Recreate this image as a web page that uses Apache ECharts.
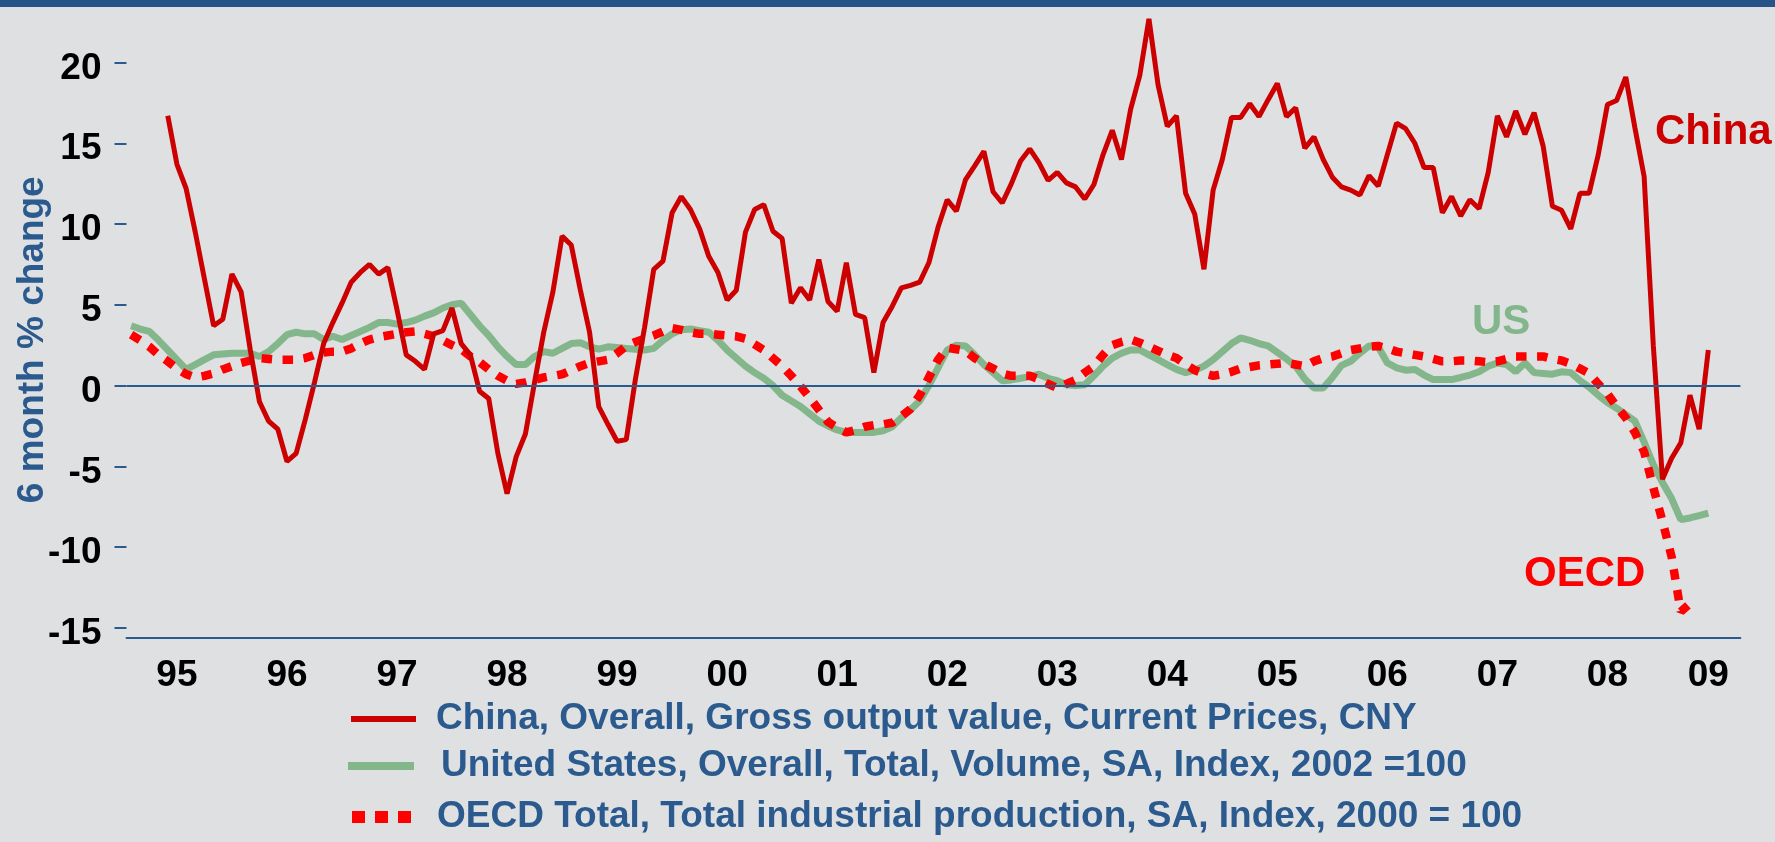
<!DOCTYPE html>
<html>
<head>
<meta charset="utf-8">
<title>6 month % change</title>
<script src="https://cdn.jsdelivr.net/npm/echarts@6/dist/echarts.min.js"></script>
<style>
  html, body { margin: 0; padding: 0; background: #dfe0e2; }
  #chart { width: 1775px; height: 842px; }
</style>
</head>
<body>
<div id="chart"></div>
<script>
// monthly categories, Jan 1995 .. Aug 2009
const years = ['1995', '1996', '1997', '1998', '1999', '2000', '2001', '2002',
  '2003', '2004', '2005', '2006', '2007', '2008', '2009'];
const months = ['01', '02', '03', '04', '05', '06', '07', '08', '09', '10', '11', '12'];
const yearLabels = ['95', '96', '97', '98', '99', '00', '01', '02', '03', '04',
  '05', '06', '07', '08', '09'];
const yTicks = [-15, -10, -5, 0, 5, 10, 15, 20];

const chinaName = 'China, Overall, Gross output value, Current Prices, CNY';
const usName = 'United States, Overall, Total, Volume, SA, Index, 2002 =100';
const oecdName = 'OECD Total, Total industrial production, SA, Index, 2000 = 100';

// 6 month % change, one value per month
const china = [
  null, null, null, null, 16.7, 13.7, 12.2, 9.5, 6.6, 3.7, 4.1, 6.9,
  5.8, 2.2, -1.0, -2.2, -2.7, -4.7, -4.2, -2.1, 0.2, 2.6, 3.9, 5.1,
  6.4, 7.0, 7.5, 6.9, 7.3, 4.7, 1.9, 1.5, 1.0, 3.2, 3.4, 4.8,
  2.6, 1.9, -0.35, -0.8, -4.2, -6.7, -4.4, -3.0, 0.2, 3.3, 5.8, 9.25,
  8.7, 5.9, 3.3, -1.3, -2.4, -3.45, -3.35, 0.4, 3.6, 7.2, 7.7, 10.7,
  11.7, 10.9, 9.7, 8.0, 7.0, 5.3, 5.9, 9.5, 10.9, 11.2, 9.55, 9.1,
  5.1, 6.05, 5.3, 7.8, 5.2, 4.6, 7.6, 4.4, 4.2, 0.8, 3.9, 4.9,
  6.05, 6.2, 6.4, 7.6, 9.8, 11.5, 10.8, 12.75, 13.6, 14.5, 12.0, 11.3,
  12.5, 13.9, 14.65, 13.8, 12.7, 13.2, 12.55, 12.3, 11.55, 12.45, 14.3, 15.8,
  14.0, 17.1, 19.2, 22.7, 18.6, 16.05, 16.7, 11.9, 10.6, 7.2, 12.1, 14.0,
  16.6, 16.6, 17.45, 16.65, 17.7, 18.7, 16.65, 17.2, 14.7, 15.4, 14.0, 12.9,
  12.3, 12.1, 11.8, 13.0, 12.35, 14.3, 16.25, 15.9, 15.0, 13.5, 13.5, 10.7,
  11.7, 10.5, 11.5, 10.95, 13.2, 16.7, 15.4, 17.0, 15.55, 16.9, 14.8, 11.1,
  10.85, 9.7, 11.9, 11.9, 14.3, 17.4, 17.65, 19.1, 15.95, 12.95, 2.5, -5.8,
  -4.5, -3.55, -0.6, -2.7, 2.2, null, null, null
];

const us = [
  3.7, 3.5, 3.35, 2.8, 2.2, 1.6, 1.0, 1.3, 1.6, 1.9, 1.95, 2.0,
  2.0, 2.0, 1.8, 2.1, 2.6, 3.15, 3.3, 3.2, 3.2, 2.85, 3.05, 2.85,
  3.1, 3.35, 3.6, 3.9, 3.9, 3.8, 3.9, 4.05, 4.3, 4.5, 4.8, 5.0,
  5.1, 4.4, 3.7, 3.1, 2.4, 1.8, 1.3, 1.3, 1.8, 2.1, 2.0, 2.3,
  2.6, 2.65, 2.4, 2.25, 2.4, 2.35, 2.3, 2.25, 2.2, 2.3, 2.8, 3.2,
  3.45, 3.5, 3.4, 3.3, 2.8, 2.2, 1.7, 1.2, 0.8, 0.45, 0.0, -0.6,
  -0.95, -1.3, -1.75, -2.2, -2.5, -2.75, -2.9, -2.9, -2.9, -2.9, -2.8, -2.55,
  -2.0, -1.5, -0.95, 0.0, 1.1, 2.2, 2.5, 2.45, 1.9, 1.3, 0.8, 0.3,
  0.35, 0.45, 0.55, 0.7, 0.45, 0.3, 0.05, 0.0, 0.05, 0.6, 1.2, 1.7,
  2.0, 2.2, 2.2, 1.9, 1.6, 1.3, 1.0, 0.8, 0.95, 1.2, 1.6, 2.1,
  2.6, 2.95, 2.8, 2.6, 2.45, 2.05, 1.65, 1.2, 0.4, -0.15, -0.15, 0.5,
  1.25, 1.5, 2.0, 2.45, 2.4, 1.4, 1.1, 0.95, 1.0, 0.65, 0.37, 0.37,
  0.37, 0.5, 0.65, 0.85, 1.2, 1.4, 1.3, 0.85, 1.4, 0.8, 0.75, 0.7,
  0.85, 0.8, 0.3, -0.1, -0.6, -1.05, -1.4, -1.8, -2.2, -3.5, -4.9, -6.0,
  -7.0, -8.3, -8.2, -8.05, -7.9, null, null, null
];

const oecd = [
  3.15, 2.8, 2.4, 1.9, 1.5, 1.05, 0.7, 0.5, 0.6, 0.75, 1.0, 1.2,
  1.4, 1.55, 1.7, 1.65, 1.6, 1.6, 1.6, 1.7, 1.9, 2.05, 2.1, 2.1,
  2.3, 2.6, 2.85, 3.0, 3.1, 3.2, 3.3, 3.35, 3.2, 3.05, 2.8, 2.5,
  2.25, 1.8, 1.45, 1.0, 0.6, 0.3, 0.1, 0.2, 0.35, 0.5, 0.6, 0.7,
  0.95, 1.2, 1.4, 1.5, 1.6, 2.0, 2.45, 2.7, 2.9, 3.1, 3.35, 3.55,
  3.45, 3.3, 3.2, 3.2, 3.15, 3.1, 3.05, 2.9, 2.55, 2.2, 1.7, 1.2,
  0.6, -0.05, -0.75, -1.5, -2.25, -2.6, -2.9, -2.75, -2.55, -2.45, -2.4, -2.3,
  -1.9, -1.45, -0.6, 0.5, 1.6, 2.35, 2.25, 2.15, 1.7, 1.35, 1.05, 0.75,
  0.6, 0.6, 0.6, 0.4, 0.1, -0.15, 0.1, 0.35, 0.8, 1.2, 1.9, 2.5,
  2.7, 2.85, 2.65, 2.4, 2.15, 1.9, 1.7, 1.3, 0.95, 0.75, 0.6, 0.7,
  0.85, 1.05, 1.15, 1.25, 1.3, 1.35, 1.4, 1.3, 1.2, 1.5, 1.7, 1.8,
  2.0, 2.2, 2.3, 2.4, 2.45, 2.3, 2.1, 2.0, 1.9, 1.8, 1.65, 1.5,
  1.5, 1.55, 1.55, 1.5, 1.45, 1.5, 1.65, 1.8, 1.8, 1.8, 1.8, 1.65,
  1.55, 1.35, 1.05, 0.75, 0.1, -0.5, -1.3, -2.0, -2.9, -4.1, -6.3, -8.4,
  -10.6, -14.0, -13.5, null, null, null, null, null
];

const categories = [];
years.forEach((y) => months.forEach((m) => categories.push(y + '-' + m)));
categories.length = china.length;

const FONT = "'Liberation Sans', Arial, sans-serif";
const BLUE = '#2b5a8e';
const CHINA_RED = '#cc0000';
const US_GREEN = '#84b68b';
const OECD_RED = '#ff0000';

function legendBox(name, left, centerY, w, h, gap, iconColor) {
  return {
    data: [name],
    icon: 'rect',
    left: left,
    top: centerY - 20,
    padding: 0,
    itemWidth: w,
    itemHeight: h,
    selectedMode: false,
    itemStyle: iconColor ? { borderWidth: 0, color: iconColor } : { borderWidth: 0 },
    textStyle: {
      color: BLUE,
      fontSize: 37,
      fontWeight: 'bold',
      fontFamily: FONT,
      lineHeight: 40,
      padding: [0, 0, 0, gap]
    }
  };
}

// dotted key for the OECD row: three red squares
function dottedKey(left, centerY) {
  return {
    type: 'group',
    left: left,
    top: centerY - 6,
    children: [0, 23, 46].map((dx) => ({
      type: 'rect',
      shape: { x: dx, y: 0, width: 13, height: 12 },
      style: { fill: OECD_RED }
    }))
  };
}

const chart = echarts.init(document.getElementById('chart'));

const option = {
  backgroundColor: '#dfe0e2',
  animation: false,
  grid: {
    left: 126.5,
    right: 34.6,
    top: 6,
    bottom: 204.5,
    containLabel: false,
    outerBoundsMode: 'none'
  },
  legend: [
    legendBox(chinaName, 351, 719, 65, 6, 15),
    legendBox(usName, 348, 766, 66, 8, 22),
    legendBox(oecdName, 352, 817, 59, 12, 21, 'rgba(0,0,0,0)')
  ],
  xAxis: {
    type: 'category',
    data: categories,
    boundaryGap: true,
    axisLine: { onZero: false, lineStyle: { color: BLUE, width: 2 } },
    axisTick: {
      length: 10,
      interval: (index) => index > 0 && index % 12 === 0,
      lineStyle: { color: BLUE, width: 2 }
    },
    axisLabel: {
      // label sits mid-year; the last, partial year is centred on its visible months
      interval: (index) => (index < 168 && index % 12 === 5) || index === 172,
      formatter: (value, index) => yearLabels[Math.floor(index / 12)],
      margin: 20,
      color: '#000',
      fontSize: 37,
      fontWeight: 'bold',
      fontFamily: FONT
    },
    splitLine: { show: false }
  },
  yAxis: {
    type: 'value',
    min: -15.6,
    max: 23.5,
    name: '6 month % change',
    nameLocation: 'middle',
    nameRotate: 90,
    nameGap: 75,
    nameMoveOverlap: false,
    nameTextStyle: {
      color: BLUE,
      fontSize: 37,
      fontWeight: 'bold',
      fontFamily: FONT,
      padding: [0, 36, 0, 0]
    },
    axisLine: { show: false },
    splitLine: { show: false },
    axisTick: {
      show: true,
      length: 12,
      customValues: yTicks,
      lineStyle: { color: BLUE, width: 2 }
    },
    axisLabel: {
      customValues: yTicks,
      margin: 25,
      color: '#000',
      fontSize: 37,
      fontWeight: 'bold',
      fontFamily: FONT,
      verticalAlign: 'top',
      lineHeight: 12
    }
  },
  series: [
    {
      name: usName,
      type: 'line',
      data: us,
      symbol: 'none',
      color: US_GREEN,
      lineStyle: { color: US_GREEN, width: 7 },
      emphasis: { disabled: true },
      markLine: {
        silent: true,
        symbol: ['none', 'none'],
        label: { show: false },
        lineStyle: { color: BLUE, width: 2, type: 'solid' },
        emphasis: { disabled: true },
        data: [{ yAxis: 0 }]
      }
    },
    {
      name: oecdName,
      type: 'line',
      data: oecd,
      symbol: 'none',
      color: OECD_RED,
      lineStyle: { color: OECD_RED, width: 8.5, type: [10.5, 10.5] },
      emphasis: { disabled: true }
    },
    {
      name: chinaName,
      type: 'line',
      data: china,
      symbol: 'none',
      color: CHINA_RED,
      lineStyle: { color: CHINA_RED, width: 5 },
      emphasis: { disabled: true }
    }
  ],
  graphic: [
    {
      type: 'rect',
      left: 0,
      top: 0,
      shape: { width: 1775, height: 7 },
      style: { fill: '#275488' }
    },
    dottedKey(352, 817),
    {
      type: 'text',
      left: 1655,
      top: 111,
      style: { text: 'China', fill: CHINA_RED, font: "bold 42px 'Liberation Sans', Arial, sans-serif" }
    },
    {
      type: 'text',
      left: 1472,
      top: 301,
      style: { text: 'US', fill: US_GREEN, font: "bold 42px 'Liberation Sans', Arial, sans-serif" }
    },
    {
      type: 'text',
      left: 1524,
      top: 553,
      style: { text: 'OECD', fill: OECD_RED, font: "bold 42px 'Liberation Sans', Arial, sans-serif" }
    }
  ]
};

chart.setOption(option);
</script>
</body>
</html>
